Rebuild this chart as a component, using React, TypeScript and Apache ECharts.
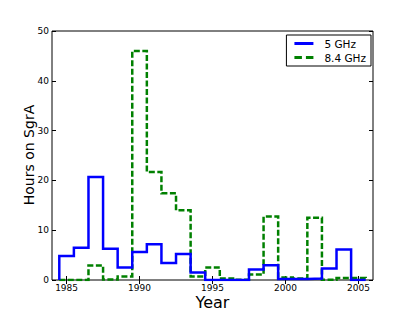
import React, { useEffect, useRef } from "react";
import * as echarts from "echarts";

const years = [1985, 1986, 1987, 1988, 1989, 1990, 1991, 1992, 1993, 1994, 1995, 1996, 1997, 1998, 1999, 2000, 2001, 2002, 2003, 2004, 2005];
const hours5GHz = [4.8, 6.5, 20.7, 6.3, 2.5, 5.6, 7.2, 3.4, 5.2, 1.5, 0, 0, 0, 2.1, 2.95, 0.2, 0.2, 0.3, 2.3, 6.1, 0];
const hours84GHz = [0, 0, 2.9, 0.1, 0.7, 46, 21.7, 17.4, 14.0, 0.7, 2.5, 0.3, 0.05, 1.1, 12.75, 0.5, 0.3, 12.5, 0.05, 0.4, 0.4];
const xTicks = [1985, 1990, 1995, 2000, 2005];
const xTitle = "Year";
const yTitle = "Hours on SgrA";

function stepOutline(xs: number[], vs: number[]): number[][] {
  const pts: number[][] = [];
  const w = 1;
  pts.push([xs[0] - w / 2, 0]);
  for (let i = 0; i < xs.length; i++) {
    pts.push([xs[i] - w / 2, vs[i]]);
    pts.push([xs[i] + w / 2, vs[i]]);
  }
  pts.push([xs[xs.length - 1] + w / 2, 0]);
  return pts;
}

const FONT = "DejaVu Sans";

export default function App() {
  const ref = useRef<HTMLDivElement>(null);
  useEffect(() => {
    if (!ref.current) return;
    const chart = echarts.init(ref.current, null, { renderer: "svg" });
    const tickCommon = { inside: true, length: 4, lineStyle: { color: "#000", width: 1 } };
    chart.setOption({
      animation: false,
      backgroundColor: "#fff",
      grid: {
        left: 52, top: 31, width: 321, height: 249,
        outerBoundsMode: "none", containLabel: false,
        show: true, borderColor: "#000", borderWidth: 1, backgroundColor: "transparent",
      },
      xAxis: [
        {
          type: "value", min: 1984, max: 2006, position: "bottom",
          axisLine: { show: false }, splitLine: { show: false },
          axisTick: { ...tickCommon, customValues: xTicks },
          axisLabel: { customValues: xTicks, formatter: (v: number) => String(v), color: "#000", fontFamily: FONT, fontSize: 9, margin: 3 },
        },
        {
          type: "value", min: 1984, max: 2006, position: "top",
          axisLine: { show: false }, splitLine: { show: false },
          axisTick: { ...tickCommon, customValues: xTicks },
          axisLabel: { show: false },
        },
      ],
      yAxis: [
        {
          type: "value", min: 0, max: 50, interval: 10, position: "left",
          axisLine: { show: false }, splitLine: { show: false },
          axisTick: { ...tickCommon },
          axisLabel: { color: "#000", fontFamily: FONT, fontSize: 9, margin: 3 },
        },
        {
          type: "value", min: 0, max: 50, interval: 10, position: "right",
          axisLine: { show: false }, splitLine: { show: false },
          axisTick: { ...tickCommon },
          axisLabel: { show: false },
        },
      ],
      graphic: [
        {
          type: "text", x: 212.5, y: 302,
          style: { text: xTitle, fill: "#000", font: `16px "${FONT}"`, textAlign: "center", textVerticalAlign: "middle" },
        },
        {
          type: "text", x: 29, y: 155, rotation: Math.PI / 2,
          style: { text: yTitle, fill: "#000", font: `14px "${FONT}"`, textAlign: "center", textVerticalAlign: "middle" },
        },
      ],
      legend: {
        show: true, orient: "vertical", right: 44, top: 35,
        backgroundColor: "#fff", borderColor: "#000", borderWidth: 1, borderRadius: 0,
        padding: [3, 5, 3, 8], itemGap: 3, itemWidth: 19, itemHeight: 3,
        textStyle: { color: "#000", fontFamily: FONT, fontSize: 10.5, padding: [0, 0, 0, 6] },
        data: [
          { name: "5 GHz", icon: "path://M0,0 L19,0 L19,3 L0,3 Z", itemStyle: { color: "#0000ff" } },
          { name: "8.4 GHz", icon: "path://M0,0 L7.5,0 L7.5,3 L0,3 Z M11.5,0 L19,0 L19,3 L11.5,3 Z", itemStyle: { color: "#008000" } },
        ],
      },
      series: [
        {
          name: "5 GHz", type: "line", xAxisIndex: 0, yAxisIndex: 0,
          data: stepOutline(years, hours5GHz), symbol: "none", clip: true,
          lineStyle: { color: "#0000ff", width: 2.5, join: "miter" }, itemStyle: { color: "#0000ff" },
          z: 3,
        },
        {
          name: "8.4 GHz", type: "line", xAxisIndex: 0, yAxisIndex: 0,
          data: stepOutline(years, hours84GHz), symbol: "none", clip: true,
          lineStyle: { color: "#008000", width: 2.5, type: [6, 2.5], join: "miter" }, itemStyle: { color: "#008000" },
          z: 2,
        },
      ],
    });
    return () => chart.dispose();
  }, []);
  return <div ref={ref} style={{ position: "fixed", left: 0, top: 0, width: 415, height: 312 }} />;
}
